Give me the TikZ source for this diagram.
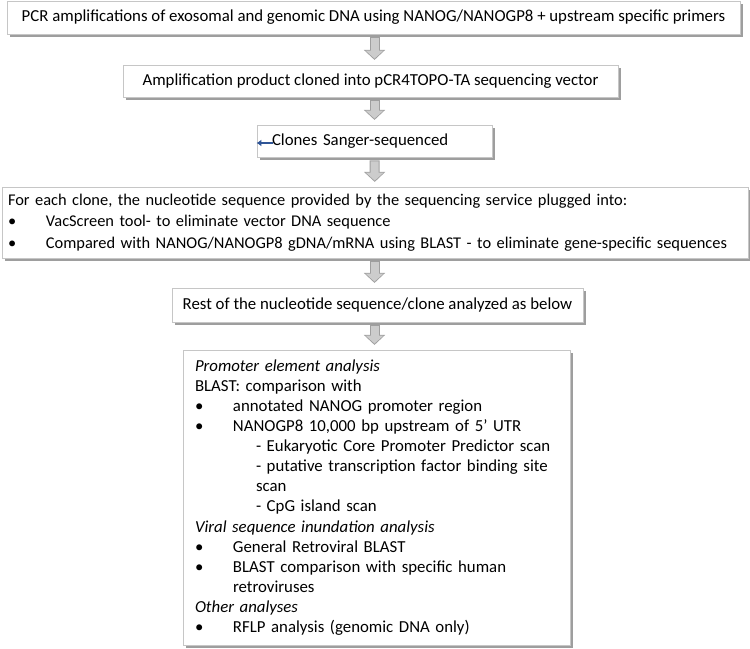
\documentclass[tikz,border=0pt]{standalone}
\usepackage{fontspec}
\setmainfont{Carlito}
\usepackage{tikz}
\usetikzlibrary{calc,positioning,arrows.meta,shadows}
\definecolor{stubblue}{RGB}{47,85,151}
\newcommand{\bitem}{\makebox[28.5pt][l]{\textbullet}}
\newcommand{\subindent}{\hspace*{45.75pt}}

\begin{document}
\begin{tikzpicture}[x=0.75pt, y=-0.75pt,%
    every node/.style={font=\fontsize{12.6pt}{15.1pt}\selectfont},
    stepbox/.style={draw=gray!45, fill=white, line width=0.6pt, inner sep=0pt, align=center,
        drop shadow={shadow xshift=2.2pt, shadow yshift=-2pt, fill=gray!85, opacity=.9}},
    flow/.style={line width=6pt, gray!40, -{Triangle[width=13pt, length=6pt]},
        shorten <=3pt, shorten >=4.5pt,
        preaction={draw, gray!75, line width=7.5pt, -{Triangle[width=15.5pt, length=7.5pt]},
            shorten <=2.25pt, shorten >=3.5pt}},
    stubarrow/.style={line width=1.4pt, stubblue, -{Latex[length=3.5pt, width=5pt]}}]
    \useasboundingbox (0,0) rectangle (750,649);

    \node[stepbox, minimum width=549.75pt, minimum height=24.75pt](pcr) at (373.5,17.5)
        {PCR amplifications of exosomal and genomic DNA using NANOG/NANOGP8 + upstream specific primers};
    \node[stepbox, minimum width=371.25pt, minimum height=24pt](clone) at (370.5,81)
        {Amplification product cloned into pCR4TOPO-TA sequencing vector};
    \node[stepbox, text width=153.75pt, inner xsep=11.25pt, minimum height=24pt, align=left](sanger) at (374.5,141)
        {Clones Sanger-sequenced};
    \node[stepbox, text width=550.5pt, inner xsep=4.5pt, minimum height=53.25pt, align=left,
        font=\fontsize{12.3pt}{16pt}\selectfont](plug) at (375,222.5)
        {For each clone, the nucleotide sequence provided by the sequencing service plugged into:\\
        \bitem VacScreen tool- to eliminate vector DNA sequence\\
        \bitem Compared with NANOG/NANOGP8 gDNA/mRNA using BLAST - to eliminate gene-specific sequences};
    \node[stepbox, minimum width=308.25pt, minimum height=25.5pt](rest) at (377.5,305)
        {Rest of the nucleotide sequence/clone analyzed as below};
    \node[stepbox, text width=272.25pt, inner xsep=9pt, minimum height=221.25pt, align=left](analysis) at (376.5,497.5)
        {\textit{Promoter element analysis}\\
        BLAST: comparison with\\
        \bitem annotated NANOG promoter region\\
        \bitem NANOGP8 10,000 bp upstream of 5’ UTR\\
        \subindent - Eukaryotic Core Promoter Predictor scan\\
        \subindent - putative transcription factor binding site\\
        \subindent scan\\
        \subindent - CpG island scan\\
        \textit{Viral sequence inundation analysis}\\
        \bitem General Retroviral BLAST\\
        \bitem BLAST comparison with specific human\\
        \hspace*{28.5pt}retroviruses\\
        \textit{Other analyses}\\
        \bitem RFLP analysis (genomic DNA only)};

    \draw[flow] (pcr.south -| sanger) -- (clone.north -| sanger);
    \draw[flow] (clone.south -| sanger) -- (sanger);
    \draw[flow] (sanger) -- (plug);
    \draw[flow] (plug.south -| sanger) -- (rest.north -| sanger);
    \draw[flow] (rest.south -| sanger) -- (analysis.north -| sanger);

    \coordinate (stub) at (273,143);
    \draw[stubarrow] (stub) -- (sanger.west |- stub);
\end{tikzpicture}
\end{document}
